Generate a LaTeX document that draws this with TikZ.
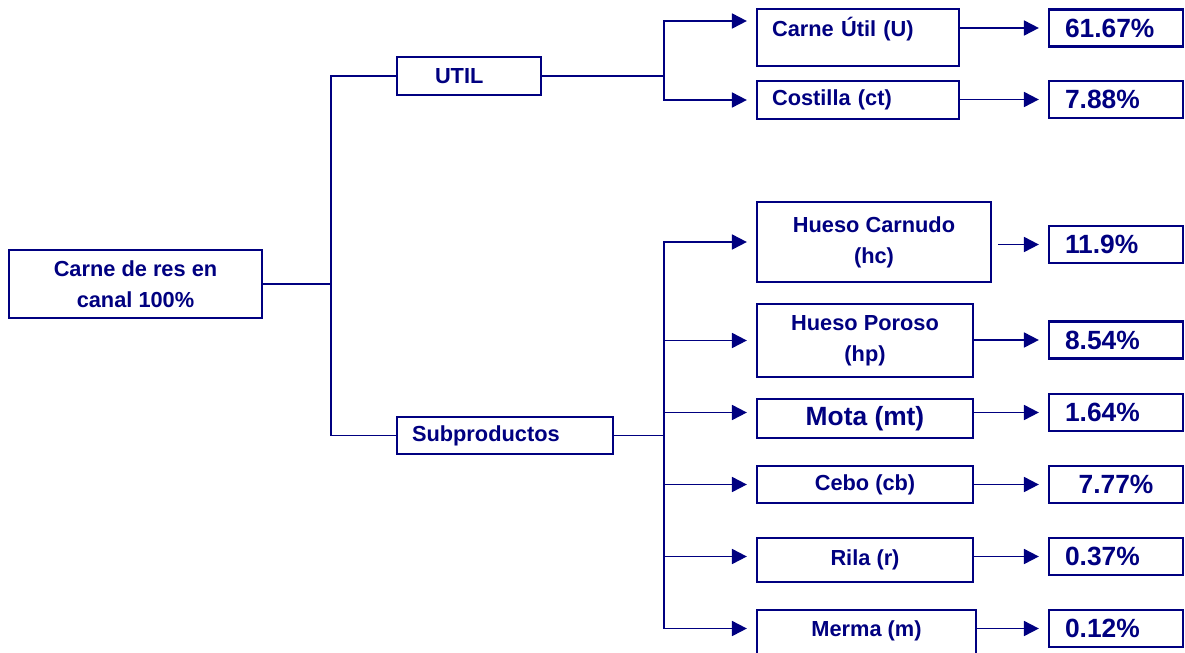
\documentclass[tikz,border=0pt]{standalone}
\usepackage{fontspec}
\setmainfont{Liberation Sans}
\usetikzlibrary{arrows.meta}
\definecolor{azul}{HTML}{000080}

\begin{document}
\begin{tikzpicture}[x=0.02cm, y=-0.02cm, >={Triangle[length=8.5pt,width=8.5pt]},
  font=\fontsize{12.4}{17.5}\selectfont\bfseries,
  caja/.style={draw=azul, line width=1.3pt, text=azul, inner sep=0pt, align=center},
  izq/.style={align=left, inner xsep=0.3cm, text width=#1},
  pct/.style={caja, minimum height=0.74cm, text width=2.04cm, inner xsep=0.32cm, align=left,
    font=\fontsize{15}{18}\selectfont\bfseries},
  linea/.style={draw=azul, line width=1.1pt},
  flecha/.style={linea, ->, shorten >=0.18cm}]
  \useasboundingbox (0,0) rectangle (1185,652);
  \clip (0,0) rectangle (1185,652);

  % Canal
  \node[caja, minimum width=5.06cm, minimum height=1.36cm] (raiz) at (135.5,284) {Carne de res en\\canal 100\%};

  % Ramas principales
  \node[caja, izq=1.36cm, inner xsep=0.76cm, minimum height=0.76cm] (util) at (469,76) {UTIL};
  \node[caja, izq=3.72cm, minimum height=0.74cm] (subp) at (505,435.5) {Subproductos};

  % Cortes
  \node[caja, izq=3.44cm, text height=0.56cm, text depth=0.58cm] (carne) at (858,37.5) {Carne Útil (U)};
  \node[caja, izq=3.44cm, minimum height=0.76cm] (cost) at (858,100) {Costilla (ct)};
  \node[caja, minimum width=4.68cm, minimum height=1.6cm] (hc) at (874,242) {Hueso Carnudo\\(hc)};
  \node[caja, minimum width=4.32cm, minimum height=1.46cm] (hp) at (865,340.5) {Hueso Poroso\\(hp)};
  \node[caja, minimum width=4.32cm, minimum height=0.78cm, font=\fontsize{15}{18}\selectfont\bfseries] (mota) at (865,418.5) {Mota (mt)};
  \node[caja, minimum width=4.32cm, minimum height=0.74cm] (cebo) at (865,484.5) {Cebo (cb)};
  \node[caja, minimum width=4.32cm, minimum height=0.88cm] (rila) at (865,560) {Rila (r)};
  \node[caja, minimum width=4.38cm, text height=0.52cm, text depth=0.48cm] (merma) at (866.5,635) {Merma (m)};

  % Porcentajes
  \node[pct] (p1) at (1116,28) {61.67\%};
  \node[pct] (p2) at (1116,99.5) {7.88\%};
  \node[pct] (p3) at (1116,244.5) {11.9\%};
  \node[pct] (p4) at (1116,340) {8.54\%};
  \node[pct] (p5) at (1116,412.5) {1.64\%};
  \node[pct, align=center] (p6) at (1116,484.5) {7.77\%};
  \node[pct] (p7) at (1116,556.5) {0.37\%};
  \node[pct] (p8) at (1116,628.5) {0.12\%};

  % Tronco
  \coordinate (tronco) at (331,284);
  \draw[linea] (raiz.east) -- (tronco);
  \draw[linea] (util.west) -| (tronco) |- (subp.west);

  % Util
  \coordinate (ramaU) at (664,76);
  \draw[linea] (util.east) -- (ramaU);
  \draw[flecha] (ramaU) |- ([yshift=0.33cm]carne.west);
  \draw[flecha] (ramaU) |- (cost.west);

  % Subproductos
  \coordinate (ramaS) at (664,435.5);
  \draw[linea] (subp.east) -- (ramaS);
  \draw[flecha] (ramaS) |- (hc.west);
  \draw[flecha] (ramaS) |- (hp.west);
  \draw[flecha] (ramaS) |- (mota.west |- p5.west);
  \draw[flecha] (ramaS) |- (cebo.west);
  \draw[flecha] (ramaS) |- (rila.west |- p7.west);
  \draw[flecha] (ramaS) |- (merma.west |- p8.west);

  % Hacia los porcentajes
  \draw[flecha] (carne.east |- p1.west) -- (p1.west);
  \draw[flecha] (cost.east |- p2.west) -- (p2.west);
  \draw[flecha, shorten <=0.12cm] (hc.east |- p3.west) -- (p3.west);
  \draw[flecha] (hp.east |- p4.west) -- (p4.west);
  \draw[flecha] (mota.east |- p5.west) -- (p5.west);
  \draw[flecha] (cebo.east |- p6.west) -- (p6.west);
  \draw[flecha] (rila.east |- p7.west) -- (p7.west);
  \draw[flecha] (merma.east |- p8.west) -- (p8.west);
\end{tikzpicture}
\end{document}
